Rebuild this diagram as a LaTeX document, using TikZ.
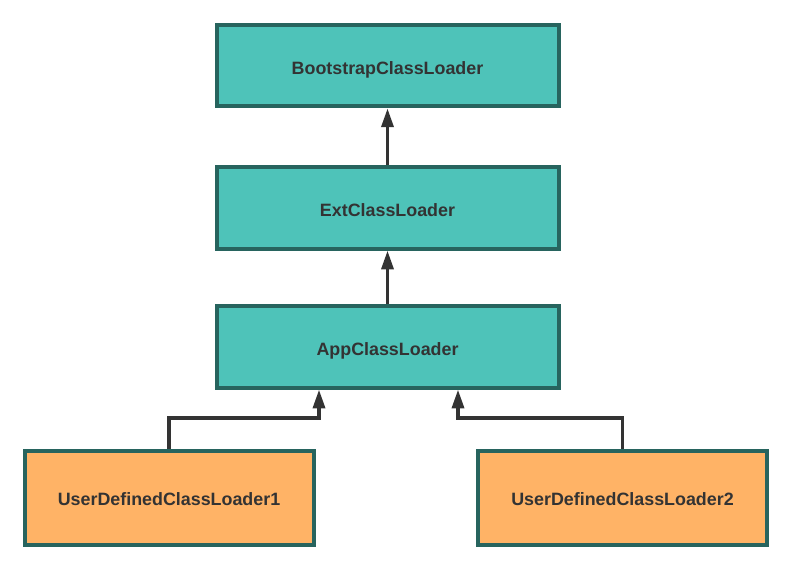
\documentclass[tikz,border=0pt]{standalone}
\usepackage{fontspec}
\setmainfont{Liberation Sans}
\usetikzlibrary{arrows.meta}
\definecolor{tealfill}{HTML}{4EC3B9}
\definecolor{orangefill}{HTML}{FFB366}
\definecolor{bordc}{HTML}{27645E}
\definecolor{txtc}{HTML}{333333}
\begin{document}
\begin{tikzpicture}[x=0.75pt,y=-0.75pt,
  box/.style={draw=bordc, line width=3pt, rectangle, inner sep=0pt, text depth=0pt, text height=12.5pt,
    font=\fontsize{13.4}{15}\selectfont\bfseries, text=txtc},
  tealbox/.style={box, fill=tealfill, minimum width=256.5pt, minimum height=61pt},
  orangebox/.style={box, fill=orangefill, minimum width=216.75pt, minimum height=70.5pt},
  arr/.style={draw=txtc, line width=2.5pt, -{Triangle[length=14pt,width=9pt]}}]
\useasboundingbox (0,0) rectangle (792,570);
\node[tealbox] (boot) at (387.5,65.8) {BootstrapClassLoader};
\node[tealbox] (ext) at (387.5,208) {ExtClassLoader};
\node[tealbox] (app) at (387.5,347) {AppClassLoader};
\node[orangebox] (ud1) at (169,497.5) {UserDefinedClassLoader1};
\node[orangebox] (ud2) at (622.5,497.5) {UserDefinedClassLoader2};
\coordinate (j1) at (319,418);
\coordinate (j2) at (458,418);
\draw[arr] (ext.north) -- (boot.south);
\draw[arr] (app.north) -- (ext.south);
\draw[arr] (ud1.north) |- (j1) -- (app.south -| j1);
\draw[arr] (ud2.north) |- (j2) -- (app.south -| j2);
\end{tikzpicture}
\end{document}
